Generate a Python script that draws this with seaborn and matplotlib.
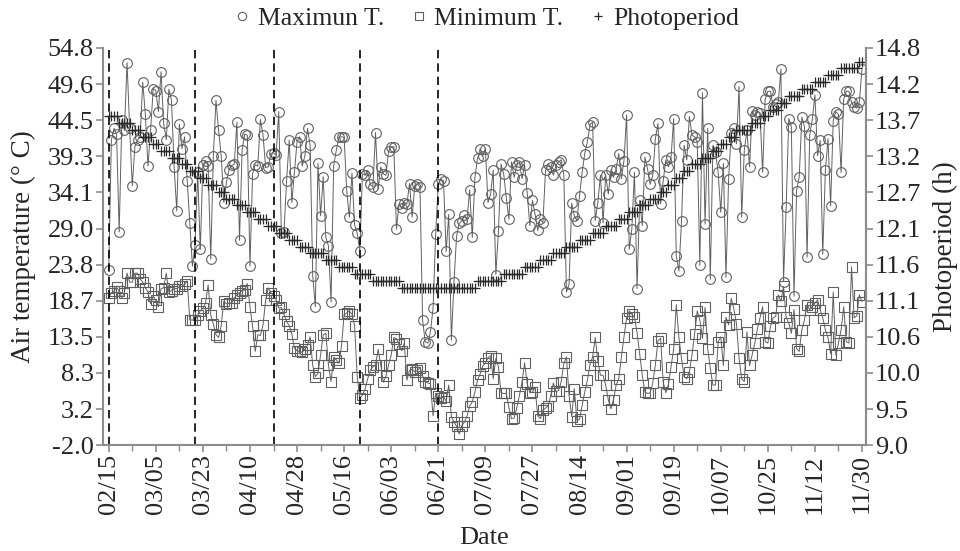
import numpy as np
import pandas as pd
import matplotlib
matplotlib.use("Agg")
import matplotlib.pyplot as plt
from matplotlib.lines import Line2D
from matplotlib.ticker import MultipleLocator
import seaborn as sns

# daily maximum air temperature (deg C), 02/15 .. 11/30
tmax = [
    23.1, 41.6, 43.3, 42.5, 28.5, 44.5, 43.0, 52.7, 43.3, 35.1, 40.7, 41.6, 42.1, 49.9, 45.3, 37.9, 43.0, 49.0,
    48.7, 45.7, 51.4, 44.0, 41.7, 48.9, 47.3, 37.8, 31.5, 43.9, 40.4, 42.1, 35.8, 29.7, 23.6, 26.6, 37.0, 26.0,
    38.0, 38.7, 37.9, 24.6, 39.4, 47.3, 43.0, 39.4, 32.7, 35.6, 37.4, 38.0, 38.2, 44.2, 27.3, 40.2, 42.5, 42.3,
    23.6, 36.8, 38.1, 37.9, 44.6, 42.3, 37.7, 37.8, 39.7, 39.8, 39.5, 45.7, 28.4, 28.5, 35.8, 41.6, 32.7, 37.0,
    41.4, 42.1, 37.9, 39.4, 43.3, 40.9, 22.2, 17.8, 38.3, 30.8, 36.4, 27.7, 26.5, 18.5, 37.9, 40.2, 42.0, 42.1,
    42.0, 34.3, 30.6, 36.9, 29.5, 28.3, 25.8, 36.8, 36.6, 37.3, 35.3, 34.9, 42.7, 34.6, 37.8, 36.8, 36.6, 40.1,
    40.6, 40.7, 28.9, 32.5, 31.9, 32.7, 32.5, 35.4, 30.6, 35.1, 35.4, 34.9, 15.9, 12.8, 12.6, 14.2, 17.6, 28.2,
    35.4, 36.1, 35.8, 25.7, 31.0, 13.0, 21.4, 27.9, 29.7, 30.1, 30.9, 30.3, 34.5, 27.7, 36.3, 39.0, 40.4, 39.4,
    40.4, 32.7, 33.9, 37.3, 22.4, 28.6, 38.2, 36.8, 33.4, 30.3, 38.5, 36.3, 38.0, 38.5, 36.1, 38.1, 34.0, 29.4,
    33.0, 31.0, 28.7, 30.3, 29.8, 37.3, 38.2, 37.8, 36.6, 38.0, 38.5, 38.8, 36.6, 19.9, 21.0, 32.6, 30.8, 30.1,
    33.7, 37.0, 39.7, 41.4, 43.8, 44.2, 30.1, 32.7, 36.6, 29.8, 36.6, 33.9, 37.3, 36.3, 37.5, 39.7, 36.1, 38.7,
    45.2, 26.0, 28.9, 37.0, 20.4, 33.0, 29.4, 39.2, 37.5, 35.3, 36.6, 41.8, 44.0, 32.5, 35.8, 38.8, 37.8, 39.2,
    44.7, 25.0, 22.9, 30.1, 40.9, 38.8, 45.0, 42.3, 42.1, 41.4, 23.7, 48.4, 29.6, 43.3, 21.7, 40.9, 39.9, 37.0,
    31.3, 38.3, 22.0, 36.1, 42.6, 43.3, 41.1, 49.3, 30.6, 40.2, 43.0, 37.8, 45.8, 45.2, 45.7, 45.5, 37.0, 47.5,
    48.6, 48.6, 46.4, 46.8, 47.1, 51.8, 21.4, 32.0, 44.7, 43.5, 19.3, 34.4, 36.4, 44.9, 43.6, 24.9, 42.3, 44.6,
    48.1, 39.4, 41.6, 25.3, 37.3, 41.8, 32.2, 44.4, 45.7, 45.3, 37.0, 47.5, 48.6, 48.6, 47.0, 46.4, 46.2, 47.1,
    51.8,
]

# daily minimum air temperature (deg C)
tmin = [
    19.1, 19.8, 20.0, 20.6, 20.0, 19.1, 19.8, 22.6, 21.3, 21.3, 22.6, 22.6, 21.8, 21.3, 20.5, 19.9, 18.2, 19.3,
    18.7, 17.8, 20.4, 20.5, 22.6, 19.9, 20.1, 20.4, 20.4, 20.7, 20.7, 21.0, 21.5, 15.9, 15.9, 15.9, 16.6, 17.2,
    17.6, 18.3, 20.9, 16.6, 15.3, 13.8, 13.4, 15.1, 18.6, 18.2, 18.3, 18.3, 19.0, 19.5, 19.8, 20.1, 20.2, 21.1,
    17.8, 15.0, 11.4, 13.8, 13.7, 15.2, 18.8, 20.5, 19.8, 19.4, 18.8, 17.6, 17.7, 16.7, 15.7, 15.1, 13.9, 11.9,
    11.5, 11.4, 11.3, 11.7, 12.3, 13.5, 9.4, 7.8, 8.3, 10.9, 13.8, 14.0, 9.5, 7.1, 10.6, 10.2, 9.7, 12.2,
    16.7, 16.9, 17.2, 16.7, 15.1, 7.8, 4.7, 5.2, 6.0, 7.5, 8.7, 9.2, 9.5, 11.7, 9.5, 7.0, 7.9, 9.5,
    10.9, 13.4, 13.2, 12.4, 11.5, 12.6, 7.3, 8.7, 8.9, 8.5, 8.7, 9.1, 7.9, 7.1, 6.9, 6.8, 2.2, 5.4,
    5.1, 4.7, 4.9, 4.3, 6.6, 2.1, 1.3, 0.7, -0.4, 0.8, 1.3, 2.2, 3.6, 4.2, 5.6, 7.3, 8.2, 9.3,
    9.8, 10.5, 10.8, 7.5, 10.4, 9.2, 5.5, 5.4, 5.4, 3.4, 1.8, 1.9, 3.3, 5.1, 7.0, 9.8, 6.8, 5.5,
    5.6, 6.3, 2.2, 1.8, 3.0, 3.3, 3.6, 5.1, 6.9, 5.7, 5.8, 7.1, 9.7, 10.6, 5.1, 2.1, 6.1, 1.5,
    1.7, 3.7, 5.6, 7.3, 9.5, 10.6, 13.4, 10.0, 8.0, 8.0, 6.6, 4.5, 3.2, 4.5, 6.6, 7.5, 10.6, 13.5,
    16.2, 17.2, 16.7, 16.3, 14.1, 11.0, 8.0, 5.6, 5.4, 5.5, 6.9, 9.5, 12.9, 13.3, 7.0, 5.5, 6.7, 9.2,
    11.8, 18.1, 13.4, 10.4, 7.8, 7.5, 8.5, 10.9, 13.9, 17.2, 15.9, 13.3, 17.7, 11.8, 9.0, 6.6, 6.6, 12.8,
    13.5, 9.4, 16.3, 15.2, 19.0, 17.5, 15.4, 10.4, 7.5, 7.1, 14.2, 9.4, 10.9, 12.6, 14.6, 16.2, 17.8, 12.8,
    12.6, 15.0, 16.2, 16.4, 19.5, 18.6, 20.7, 16.3, 15.5, 14.0, 17.4, 11.8, 11.4, 14.5, 15.9, 18.1, 17.4, 17.8,
    18.3, 18.8, 17.4, 16.2, 14.5, 13.4, 11.1, 19.9, 10.9, 12.6, 14.5, 17.8, 12.8, 12.6, 23.5, 16.2, 16.5, 19.5,
    18.5,
]

# daily photoperiod (h)
photoperiod = [
    13.8, 13.8, 13.8, 13.8, 13.7, 13.7, 13.7, 13.7, 13.7, 13.6, 13.6, 13.6, 13.6, 13.5, 13.5, 13.5, 13.5, 13.4,
    13.4, 13.4, 13.3, 13.3, 13.3, 13.3, 13.2, 13.2, 13.2, 13.2, 13.1, 13.1, 13.1, 13.0, 13.0, 13.0, 13.0, 12.9,
    12.9, 12.9, 12.8, 12.8, 12.8, 12.8, 12.7, 12.7, 12.7, 12.6, 12.6, 12.6, 12.6, 12.5, 12.5, 12.5, 12.5, 12.4,
    12.4, 12.4, 12.4, 12.3, 12.3, 12.3, 12.3, 12.2, 12.2, 12.2, 12.2, 12.1, 12.1, 12.1, 12.1, 12.0, 12.0, 12.0,
    12.0, 11.9, 11.9, 11.9, 11.9, 11.8, 11.8, 11.8, 11.8, 11.8, 11.8, 11.7, 11.7, 11.7, 11.7, 11.7, 11.6, 11.6,
    11.6, 11.6, 11.6, 11.6, 11.5, 11.5, 11.5, 11.5, 11.5, 11.5, 11.5, 11.4, 11.4, 11.4, 11.4, 11.4, 11.4, 11.4,
    11.4, 11.4, 11.4, 11.4, 11.3, 11.3, 11.3, 11.3, 11.3, 11.3, 11.3, 11.3, 11.3, 11.3, 11.3, 11.3, 11.3, 11.3,
    11.3, 11.3, 11.3, 11.3, 11.3, 11.3, 11.3, 11.3, 11.3, 11.3, 11.3, 11.3, 11.3, 11.3, 11.3, 11.4, 11.4, 11.4,
    11.4, 11.4, 11.4, 11.4, 11.4, 11.4, 11.4, 11.5, 11.5, 11.5, 11.5, 11.5, 11.5, 11.5, 11.5, 11.6, 11.6, 11.6,
    11.6, 11.6, 11.6, 11.7, 11.7, 11.7, 11.7, 11.7, 11.8, 11.8, 11.8, 11.8, 11.8, 11.9, 11.9, 11.9, 11.9, 11.9,
    12.0, 12.0, 12.0, 12.0, 12.0, 12.1, 12.1, 12.1, 12.1, 12.1, 12.2, 12.2, 12.2, 12.2, 12.2, 12.3, 12.3, 12.3,
    12.3, 12.4, 12.4, 12.4, 12.4, 12.5, 12.5, 12.5, 12.5, 12.6, 12.6, 12.6, 12.6, 12.7, 12.7, 12.7, 12.8, 12.8,
    12.8, 12.9, 12.9, 12.9, 13.0, 13.0, 13.0, 13.1, 13.1, 13.1, 13.1, 13.2, 13.2, 13.2, 13.2, 13.3, 13.3, 13.3,
    13.4, 13.4, 13.4, 13.5, 13.5, 13.5, 13.6, 13.6, 13.6, 13.6, 13.6, 13.6, 13.7, 13.7, 13.7, 13.7, 13.8, 13.8,
    13.8, 13.9, 13.9, 13.9, 13.9, 14.0, 14.0, 14.0, 14.1, 14.1, 14.1, 14.1, 14.1, 14.2, 14.2, 14.2, 14.2, 14.2,
    14.3, 14.3, 14.3, 14.3, 14.3, 14.4, 14.4, 14.4, 14.4, 14.4, 14.5, 14.5, 14.5, 14.5, 14.5, 14.5, 14.5, 14.6,
    14.6,
]

date_labels = ["02/15", "03/05", "03/23", "04/10", "04/28", "05/16", "06/03", "06/21", "07/09",
               "07/27", "08/14", "09/01", "09/19", "10/07", "10/25", "11/12", "11/30"]
temp_labels = ["-2.0", "3.2", "8.3", "13.5", "18.7", "23.8", "29.0", "34.1", "39.3", "44.5", "49.6", "54.8"]
photo_labels = ["9.0", "9.5", "10.0", "10.6", "11.1", "11.6", "12.1", "12.7", "13.2", "13.7", "14.2", "14.8"]

# days (from 02/15) marked with dashed lines
stage_days = [0, 33, 63, 96, 126]


def main():
    sns.set_style("ticks")
    plt.rcParams["font.family"] = ["Liberation Serif", "DejaVu Serif"]

    df = pd.DataFrame({
        "day": np.arange(len(tmax)),
        "tmax": tmax,
        "tmin": tmin,
        "photo": photoperiod,
    })

    gray = "#606060"
    axis_gray = "#8c8c8c"

    fig = plt.figure(figsize=(9.6, 5.51), dpi=100)
    ax = fig.add_axes([0.107, 0.192, 0.795, 0.721])

    sns.lineplot(data=df, x="day", y="tmax", ax=ax, color=gray, lw=0.7,
                 marker="o", markersize=7, markerfacecolor="none",
                 markeredgecolor=gray, markeredgewidth=0.8)
    sns.lineplot(data=df, x="day", y="tmin", ax=ax, color=gray, lw=0.7,
                 marker="s", markersize=6.5, markerfacecolor="none",
                 markeredgecolor=gray, markeredgewidth=0.8)
    for d in stage_days:
        ax.axvline(d, color="black", lw=1.2, ls=(0, (5, 3)))

    ax2 = ax.twinx()
    sns.scatterplot(data=df, x="day", y="photo", ax=ax2, marker="+", s=50,
                    color="#2a2a2a", linewidth=0.9)

    # axes ranges and ticks
    ax.set_xlim(-2.3, 289.5)
    ax.set_ylim(-2.0, 54.8)
    ax2.set_ylim(9.0, 14.8)

    ax.set_xticks(np.arange(len(date_labels)) * 18)
    ax.set_xticklabels(date_labels, rotation=90)
    ax.xaxis.set_minor_locator(MultipleLocator(9))
    ax.set_yticks(np.linspace(-2.0, 54.8, len(temp_labels)))
    ax.set_yticklabels(temp_labels)
    ax2.set_yticks(np.linspace(9.0, 14.8, len(photo_labels)))
    ax2.set_yticklabels(photo_labels)

    for a in (ax, ax2):
        a.spines["top"].set_visible(False)
        for s in a.spines.values():
            s.set_color(axis_gray)
            s.set_linewidth(1.5)
        a.tick_params(axis="both", which="major", direction="out", length=5,
                      width=1.2, color=axis_gray, labelsize=19, pad=1.5)
        a.tick_params(axis="x", which="minor", direction="out", length=4,
                      width=1.0, color=axis_gray)
    ax2.spines["left"].set_visible(False)
    ax2.spines["bottom"].set_visible(False)

    ax.set_xlabel("Date", fontsize=19, labelpad=9)
    ax.set_ylabel("Air temperature (° C)", fontsize=19.5, labelpad=8)
    ax2.set_ylabel("Photoperiod (h)", fontsize=19.5, labelpad=8)

    handles = [
        Line2D([], [], ls="none", marker="o", markersize=6, markerfacecolor="none",
               markeredgecolor=gray, markeredgewidth=0.8),
        Line2D([], [], ls="none", marker="s", markersize=6, markerfacecolor="none",
               markeredgecolor=gray, markeredgewidth=0.8),
        Line2D([], [], ls="none", marker="+", markersize=6, color="#2a2a2a",
               markeredgewidth=0.9),
    ]
    fig.legend(handles, ["Maximun T.", "Minimum T.", "Photoperiod"],
               loc="upper center", bbox_to_anchor=(0.508, 1.03), ncol=3,
               frameon=False, fontsize=18.5, handlelength=0.5,
               handletextpad=0.35, columnspacing=1.1)

    fig.savefig("out.png", dpi=100)


if __name__ == "__main__":
    main()
